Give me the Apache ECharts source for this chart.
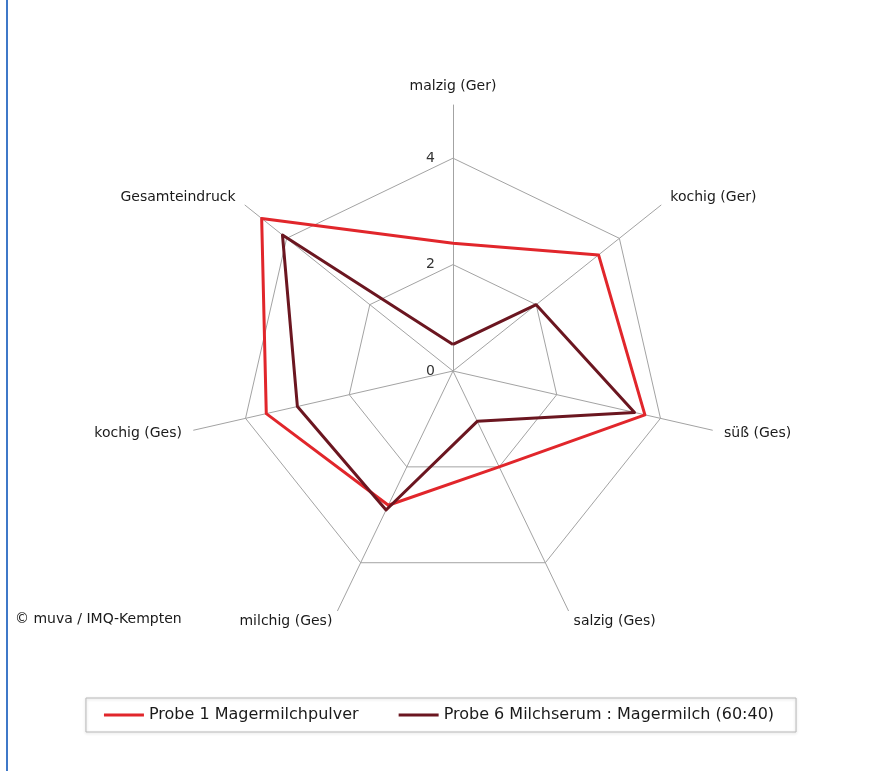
<!DOCTYPE html>
<html>
<head>
<meta charset="utf-8">
<script src="https://cdn.jsdelivr.net/npm/echarts@6/dist/echarts.min.js"></script>
<style>
  html, body { margin: 0; padding: 0; background: #fff; }
  #chart { width: 878px; height: 771px; }
  #edge { position: absolute; left: 6px; top: 0; width: 2px; height: 771px; background: #3f78c8; }
</style>
</head>
<body>
<div id="chart"></div>
<div id="edge"></div>
<script>
// Merkmale im Uhrzeigersinn, oben beginnend
var categories = ['malzig (Ger)', 'kochig (Ger)', 'süß (Ges)', 'salzig (Ges)', 'milchig (Ges)', 'kochig (Ges)', 'Gesamteindruck'];
var probe1 = [2.4, 3.5, 3.7, 2.0, 2.8, 3.6, 4.6];
var probe6 = [0.5, 2.0, 3.5, 1.05, 2.9, 3.0, 4.1];
var seriesNames = ['Probe 1 Magermilchpulver', 'Probe 6 Milchserum : Magermilch (60:40)'];
var axisMax = 5;
var ringTicks = [2, 4];   // nur diese Ringe werden gezeichnet

// ECharts ordnet die Achsen gegen den Uhrzeigersinn an -> Reihenfolge umdrehen (erste bleibt oben)
var order = [0];
for (var i = categories.length - 1; i > 0; i--) order.push(i);
function pick(arr) { return order.map(function (k) { return arr[k]; }); }

var indicator = pick(categories).map(function (name, idx) {
  var ind = { name: name, min: 0, max: axisMax };
  if (idx === 0) ind.axisLabel = { show: true };
  return ind;
});

var ringColors = [];
for (var t = 0; t <= axisMax; t++) {
  ringColors.push(ringTicks.indexOf(t) >= 0 ? '#a3a3a3' : 'rgba(0,0,0,0)');
}

var font = 'DejaVu Sans, Arial';

var chart = echarts.init(document.getElementById('chart'));
var option = {
  backgroundColor: '#fff',
  animation: false,
  color: ['#e1262b', '#6b1620'],
  legend: {
    data: seriesNames,
    left: 'center',
    top: 698,
    icon: 'rect',
    itemWidth: 40,
    itemHeight: 3,
    itemGap: 40,
    padding: [9, 22, 9, 18],
    borderColor: '#b8b8b8',
    borderWidth: 1,
    shadowColor: 'rgba(0,0,0,0.18)',
    shadowBlur: 3,
    shadowOffsetY: 1,
    textStyle: { fontFamily: font, fontSize: 16, color: '#1a1a1a' }
  },
  graphic: [{
    type: 'text',
    left: 15,
    top: 612,
    style: { text: '© muva / IMQ-Kempten', font: '14px "DejaVu Sans", Arial', fill: '#1a1a1a' }
  }],
  radar: {
    center: [453, 371],
    radius: 266,
    startAngle: 90,
    shape: 'polygon',
    splitNumber: axisMax,
    indicator: indicator,
    axisName: { color: '#1a1a1a', fontFamily: font, fontSize: 14 },
    nameGap: 12,
    axisLine: { lineStyle: { color: '#a3a3a3', width: 1 } },
    axisTick: { show: false },
    axisLabel: {
      show: false,
      color: '#333',
      fontFamily: font,
      fontSize: 14,
      margin: 18,
      formatter: function (v) { return (v % 2 === 0 && v < axisMax) ? String(v) : ''; }
    },
    splitLine: { lineStyle: { color: ringColors, width: 1 } },
    splitArea: { show: false }
  },
  series: [{
    type: 'radar',
    symbol: 'none',
    data: [
      { name: seriesNames[0], value: pick(probe1), lineStyle: { width: 3, color: '#e1262b' } },
      { name: seriesNames[1], value: pick(probe6), lineStyle: { width: 3, color: '#6b1620' } }
    ]
  }]
};
chart.setOption(option);
</script>
</body>
</html>
